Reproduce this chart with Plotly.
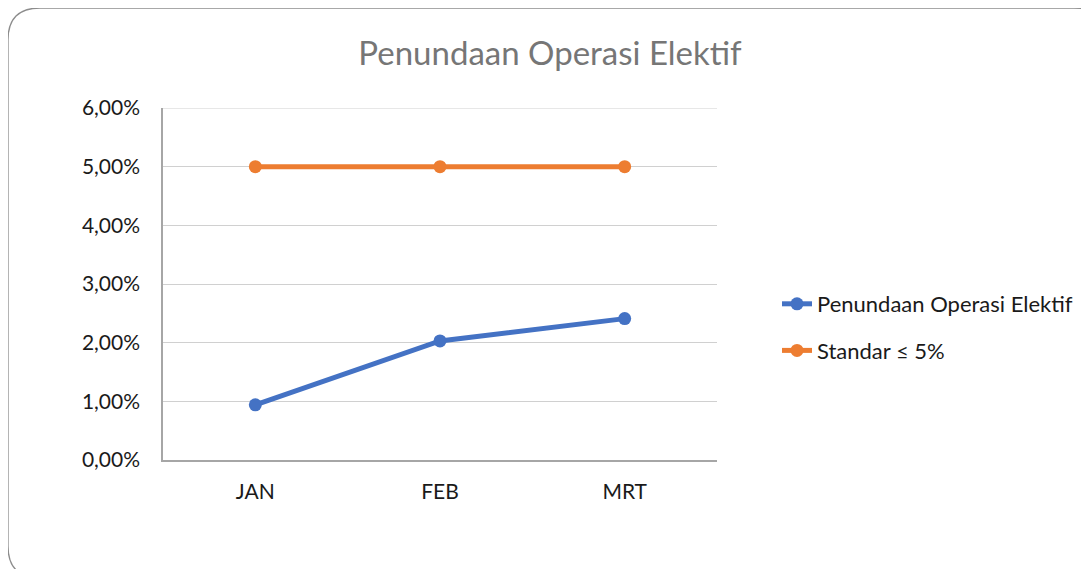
import plotly.graph_objects as go

categories = ["JAN", "FEB", "MRT"]
penundaan = [0.0094, 0.0203, 0.0241]
standar = [0.05, 0.05, 0.05]
series_names = ["Penundaan Operasi Elektif", "Standar ≤ 5%"]
tick_vals = [0, 0.01, 0.02, 0.03, 0.04, 0.05, 0.06]
tick_text = ["0,00%", "1,00%", "2,00%", "3,00%", "4,00%", "5,00%", "6,00%"]

# page has an 8px body margin; work in page pixel coords and convert
OFF = 8
W, H = 1089, 569
PL, PR, PT, PB = 163, 717, 108, 460  # plot area in page pixels
L, T = PL - OFF, PT - OFF
R, B = W - (PR - OFF), H - (PB - OFF)
PW, PH = PR - PL, PB - PT

def px(x, y):
    return (x - PL) / PW, (PB - y) / PH

fig = go.Figure()
fig.add_trace(go.Scatter(x=categories, y=penundaan, name=series_names[0], mode="lines+markers",
                         line=dict(color="#4472C4", width=5), marker=dict(size=13, color="#4472C4"),
                         legendgroup="a"))
fig.add_trace(go.Scatter(x=categories, y=standar, name=series_names[1], mode="lines+markers",
                         line=dict(color="#ED7D31", width=5), marker=dict(size=13, color="#ED7D31"),
                         legendgroup="b"))

# top gridline (at 6,00%)
fig.add_shape(type="line", xref="paper", yref="y", x0=0, x1=1, y0=tick_vals[-1], y1=tick_vals[-1],
              line=dict(color="#d0d0d0", width=1), layer="below")

# rounded outer border
r = 32
x0, y0, x1, y1 = 8, 8, 1106, 578
def P(x, y):
    a, b = px(x, y)
    return f"{a:.5f},{b:.5f}"
path = (f"M {P(x0, y0 + r)} Q {P(x0, y0)} {P(x0 + r, y0)} L {P(x1 - r, y0)} Q {P(x1, y0)} {P(x1, y0 + r)} "
        f"L {P(x1, y1 - r)} Q {P(x1, y1)} {P(x1 - r, y1)} L {P(x0 + r, y1)} Q {P(x0, y1)} {P(x0, y1 - r)} Z")
fig.add_shape(type="path", path=path, xref="paper", yref="paper",
              line=dict(color="#8c8c8c", width=1.3), layer="below")

fig.update_layout(
    width=W, height=H,
    margin=dict(l=L, r=R, t=T, b=B),
    paper_bgcolor="white", plot_bgcolor="white",
    font=dict(family="Lato, Open Sans, sans-serif", color="#1a1a1a", size=21),
    title=dict(text="Penundaan Operasi Elektif", x=(550 - OFF) / W, xanchor="center", xref="container",
               y=1 - (53 - OFF) / H, yanchor="middle",
               font=dict(size=33, color="#767676")),
    showlegend=True,
    legend=dict(x=px(777, 0)[0], xanchor="left", y=px(0, 327.5)[1], yanchor="middle",
                traceorder="grouped", tracegroupgap=15, font=dict(size=22, color="#1a1a1a"),
                bgcolor="rgba(0,0,0,0)"),
    xaxis=dict(range=[-0.5, 2.5], showgrid=False, showline=True, linecolor="#a6a6a6", linewidth=1.5,
               ticks="", ticklabelstandoff=12, fixedrange=True),
    yaxis=dict(range=[0, 0.06], tickvals=tick_vals, ticktext=tick_text, showgrid=True,
               gridcolor="#d0d0d0", gridwidth=1, showline=True, linecolor="#a6a6a6", linewidth=1.5,
               zeroline=False, ticks="", ticklabelstandoff=17),
)

fig.write_html("out.html")
